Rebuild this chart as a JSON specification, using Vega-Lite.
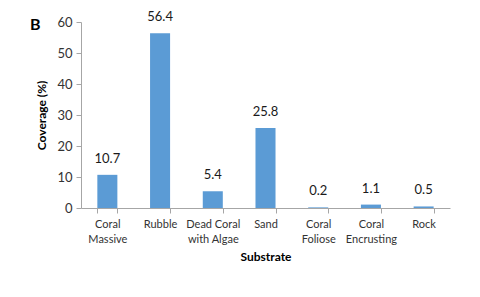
{
  "$schema": "https://vega.github.io/schema/vega-lite/v6.json",
  "autosize": "none",
  "width": 369,
  "height": 186,
  "padding": {"left": 81, "top": 22, "right": 30, "bottom": 89},
  "background": "white",
  "title": {
    "text": "B",
    "anchor": "start",
    "frame": "group",
    "orient": "top",
    "baseline": "alphabetic",
    "offset": -35,
    "dx": -51,
    "font": "Lato",
    "fontSize": 16,
    "fontWeight": "bold",
    "color": "#000000"
  },
  "data": {
    "values": [
      {"substrate": "Coral Massive", "coverage": 10.7},
      {"substrate": "Rubble", "coverage": 56.4},
      {"substrate": "Dead Coral with Algae", "coverage": 5.4},
      {"substrate": "Sand", "coverage": 25.8},
      {"substrate": "Coral Foliose", "coverage": 0.2},
      {"substrate": "Coral Encrusting", "coverage": 1.1},
      {"substrate": "Rock", "coverage": 0.5}
    ]
  },
  "encoding": {
    "x": {
      "field": "substrate",
      "type": "nominal",
      "sort": null,
      "title": "Substrate",
      "scale": {"paddingInner": 0.62, "paddingOuter": 0.31},
      "axis": {
        "labelAngle": 0,
        "tickBand": "extent",
        "tickSize": 5,
        "labelPadding": 5,
        "labelFont": "Lato",
        "labelFontSize": 11,
        "labelColor": "#333333",
        "labelLineHeight": 15,
        "labelExpr": "datum.label == 'Dead Coral with Algae' ? ['Dead Coral', 'with Algae'] : split(datum.label, ' ')",
        "domainColor": "#a6a6a6",
        "tickColor": "#a6a6a6",
        "titleFont": "Lato",
        "titleFontSize": 12,
        "titleFontWeight": "bold",
        "titleColor": "#000000",
        "titlePadding": 7
      }
    },
    "y": {
      "field": "coverage",
      "type": "quantitative",
      "title": "Coverage (%)",
      "scale": {"domain": [0, 60]},
      "axis": {
        "values": [0, 10, 20, 30, 40, 50, 60],
        "grid": false,
        "tickSize": 5,
        "labelPadding": 4,
        "labelFont": "Lato",
        "labelFontSize": 13,
        "labelColor": "#333333",
        "domainColor": "#a6a6a6",
        "tickColor": "#a6a6a6",
        "titleFont": "Lato",
        "titleFontSize": 12,
        "titleFontWeight": "bold",
        "titleColor": "#000000",
        "titlePadding": 8
      }
    }
  },
  "layer": [
    {"mark": {"type": "bar", "color": "#5B9BD5"}},
    {
      "mark": {"type": "text", "baseline": "alphabetic", "dy": -12, "font": "Lato", "fontSize": 13, "color": "#1a1a1a"},
      "encoding": {"text": {"field": "coverage", "type": "quantitative", "format": ".1f"}}
    }
  ],
  "config": {"view": {"stroke": null}}
}
